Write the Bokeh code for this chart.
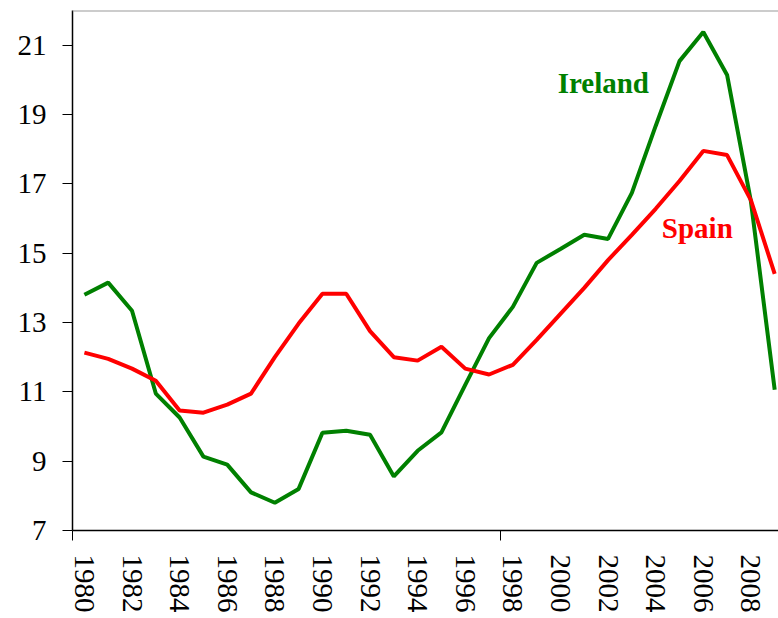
from bokeh.plotting import figure
from bokeh.models import Range1d, LinearAxis, FixedTicker, Span, ColumnDataSource
from bokeh.core.properties import value
from bokeh.embed import file_html
from bokeh.resources import INLINE

years = list(range(1980, 2010))
ireland = [13.8, 14.15, 13.34, 10.95, 10.26, 9.13, 8.9, 8.1, 7.8, 8.2,
           9.82, 9.88, 9.76, 8.56, 9.3, 9.83, 11.2, 12.55, 13.45, 14.72,
           15.12, 15.53, 15.41, 16.74, 18.67, 20.54, 21.38, 20.14, 16.5, 11.06]
spain = [12.13, 11.95, 11.67, 11.32, 10.46, 10.4, 10.63, 10.95, 12.0, 12.97,
         13.83, 13.83, 12.75, 12.0, 11.9, 12.3, 11.67, 11.5, 11.78, 12.5,
         13.25, 14.0, 14.8, 15.53, 16.28, 17.08, 17.95, 17.83, 16.53, 14.4]
x_tick_labels = list(range(1980, 2009, 2))
y_ticks = [7, 9, 11, 13, 15, 17, 19, 21]
boundary_ticks = [1979.5, 1997.5]
series_names = ["Ireland", "Spain"]
series_colors = ["#008000", "#FF0000"]
label_x = [2001.8, 2005.75]
label_y = [19.9, 15.73]

FONT = "Liberation Serif"

p = figure(frame_width=706, frame_height=520, output_backend="svg",
           toolbar_location=None, x_axis_type=None, y_axis_type=None,
           x_range=Range1d(1979.5, 2009.16), y_range=Range1d(7, 22),
           min_border_left=72, min_border_top=10, min_border_right=0,
           min_border_bottom=10)
p.outline_line_color = None
p.background_fill_color = "white"
p.border_fill_color = "white"

# y axis
yaxis = LinearAxis(ticker=FixedTicker(ticks=y_ticks))
yaxis.axis_line_color = "black"
yaxis.axis_line_width = 1.5
yaxis.major_tick_out = 10
yaxis.major_tick_in = 0
yaxis.major_tick_line_color = "black"
yaxis.minor_tick_line_color = None
yaxis.major_label_text_font = FONT
yaxis.major_label_text_font_size = "29px"
yaxis.major_label_text_color = "black"
yaxis.major_label_standoff = 16
p.add_layout(yaxis, "left")

# x axis with boundary ticks (no labels)
xaxis = LinearAxis(ticker=FixedTicker(ticks=boundary_ticks))
xaxis.axis_line_color = "black"
xaxis.axis_line_width = 1.5
xaxis.major_tick_out = 10
xaxis.major_tick_in = 0
xaxis.minor_tick_line_color = None
xaxis.major_label_overrides = {1979.5: "", 1997.5: ""}
xaxis.major_label_text_font_size = "1px"
xaxis.major_label_standoff = 0
p.add_layout(xaxis, "below")

# x labels axis
xlab = LinearAxis(ticker=FixedTicker(ticks=x_tick_labels))
xlab.axis_line_color = None
xlab.major_tick_line_color = None
xlab.minor_tick_line_color = None
xlab.major_tick_out = 0
xlab.major_label_orientation = "vertical"
xlab.major_label_text_font = FONT
xlab.major_label_text_font_size = "29px"
xlab.major_label_text_color = "black"
xlab.major_label_standoff = 14
p.add_layout(xlab, "below")

# grids
p.ygrid.ticker = FixedTicker(ticks=y_ticks)
p.ygrid.grid_line_color = "#c0c0c0"
p.ygrid.grid_line_dash = "8 6"
p.ygrid.grid_line_width = 1
p.xgrid.ticker = FixedTicker(ticks=boundary_ticks)
p.xgrid.grid_line_color = "#c0c0c0"
p.xgrid.grid_line_dash = "8 6"
p.xgrid.grid_line_width = 1

# top border
p.add_layout(Span(location=22, dimension="width", line_color="#999999", line_width=2))

src = ColumnDataSource(dict(year=years, ireland=ireland, spain=spain))
p.line("year", "ireland", source=src, line_color=series_colors[0], line_width=4)
p.line("year", "spain", source=src, line_color=series_colors[1], line_width=4)

lsrc = ColumnDataSource(dict(x=label_x, y=label_y, t=series_names, c=series_colors))
p.text(x="x", y="y", text="t", text_color="c", source=lsrc,
       text_font=value(FONT), text_font_style="bold", text_font_size="29px",
       text_align="center", text_baseline="middle")

open("out.html", "w").write(file_html(p, INLINE))
